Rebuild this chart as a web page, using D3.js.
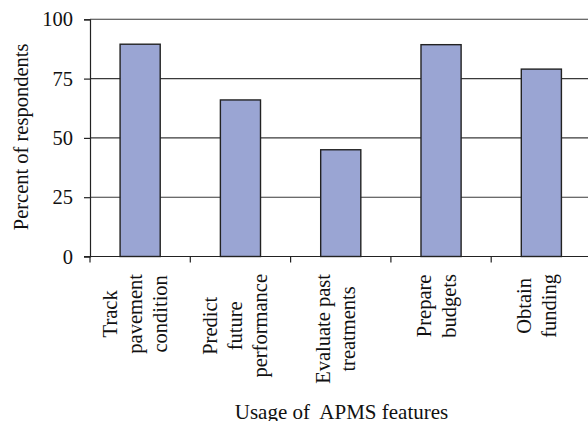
<!DOCTYPE html>
<html>
<head>
<meta charset="utf-8">
<script src="https://cdn.jsdelivr.net/npm/d3@7"></script>
<style>
  html, body { margin: 0; padding: 0; background: #fff; }
  svg { display: block; }
  text { font-family: "Liberation Serif", "Times New Roman", serif; fill: #111; white-space: pre; }
</style>
</head>
<body>
<svg id="chart" width="588" height="421"></svg>
<script>
const categories = [
  ["Track", "pavement", "condition"],
  ["Predict", "future", "performance"],
  ["Evaluate past", "treatments"],
  ["Prepare", "budgets"],
  ["Obtain", "funding"]
];
const values = [89.5, 66, 45, 89.3, 79];
const yTicks = [0, 25, 50, 75, 100];
const yTitle = "Percent of respondents";
const xTitle = "Usage of  APMS features";

(function () {
const svg = d3.select("#chart");
const W = 588, H = 421;
const mLeft = 90, mTop = 19.3, mBottom = 256.5, bandW = 100.3;
const keys = categories.map((d, i) => i);

const x = d3.scaleBand().domain(keys).range([mLeft, mLeft + bandW * keys.length]).paddingInner(0.6).paddingOuter(0.3);
const y = d3.scaleLinear().domain([0, 100]).range([mBottom, mTop]);

const fs = 20.5;

// gridlines
svg.append("g").selectAll("line").data(yTicks.filter(t => t > 0)).join("line")
  .attr("x1", mLeft).attr("x2", W)
  .attr("y1", d => y(d)).attr("y2", d => y(d))
  .attr("stroke", "#3a3a3a").attr("stroke-width", 1.1);

// bars
svg.append("g").selectAll("rect").data(values).join("rect")
  .attr("x", (d, i) => x(i)).attr("width", x.bandwidth())
  .attr("y", d => y(d)).attr("height", d => y(0) - y(d))
  .attr("fill", "#9aa5d3").attr("stroke", "#222").attr("stroke-width", 1.4);

// y axis
const yAxis = d3.axisLeft(y).tickValues(yTicks).tickSize(6).tickPadding(11).tickFormat(d3.format("d"));
const gy = svg.append("g").attr("transform", `translate(${mLeft},0)`).call(yAxis);
gy.select(".domain").attr("stroke", "#222").attr("stroke-width", 1.2);
gy.selectAll(".tick line").attr("stroke", "#222").attr("stroke-width", 1.2);
gy.selectAll(".tick text").attr("font-size", fs).attr("fill", "#111");

// x axis line + ticks at band boundaries
svg.append("line").attr("x1", mLeft - 6).attr("x2", W).attr("y1", mBottom).attr("y2", mBottom)
  .attr("stroke", "#222").attr("stroke-width", 1.2);
const bounds = d3.range(keys.length + 1).map(i => mLeft + bandW * i);
svg.append("g").selectAll("line").data(bounds).join("line")
  .attr("x1", d => d).attr("x2", d => d).attr("y1", mBottom).attr("y2", mBottom + 6)
  .attr("stroke", "#222").attr("stroke-width", 1.2);

// category labels (rotated, multi-line, centered lines, top-aligned block)
const lineH = 25;
categories.forEach((lines, i) => {
  const cx = x(i) + x.bandwidth() / 2;
  const g = svg.append("g");
  const texts = lines.map((ln, j) => g.append("text")
    .attr("font-size", fs).attr("text-anchor", "middle")
    .attr("x", 0).attr("y", (j - (lines.length - 1) / 2) * lineH + 2)
    .text(ln));
  const L = d3.max(texts, t => t.node().getComputedTextLength());
  g.attr("transform", `translate(${cx},${274 + L / 2}) rotate(-90)`);
});

// axis titles
svg.append("text").attr("font-size", fs).attr("text-anchor", "middle")
  .attr("transform", `translate(28,${(mTop + mBottom) / 2 - 1}) rotate(-90)`)
  .text(yTitle);
svg.append("text").attr("font-size", 21).attr("text-anchor", "middle")
  .attr("x", 341.5).attr("y", 419)
  .text(xTitle);
})();
</script>
</body>
</html>
